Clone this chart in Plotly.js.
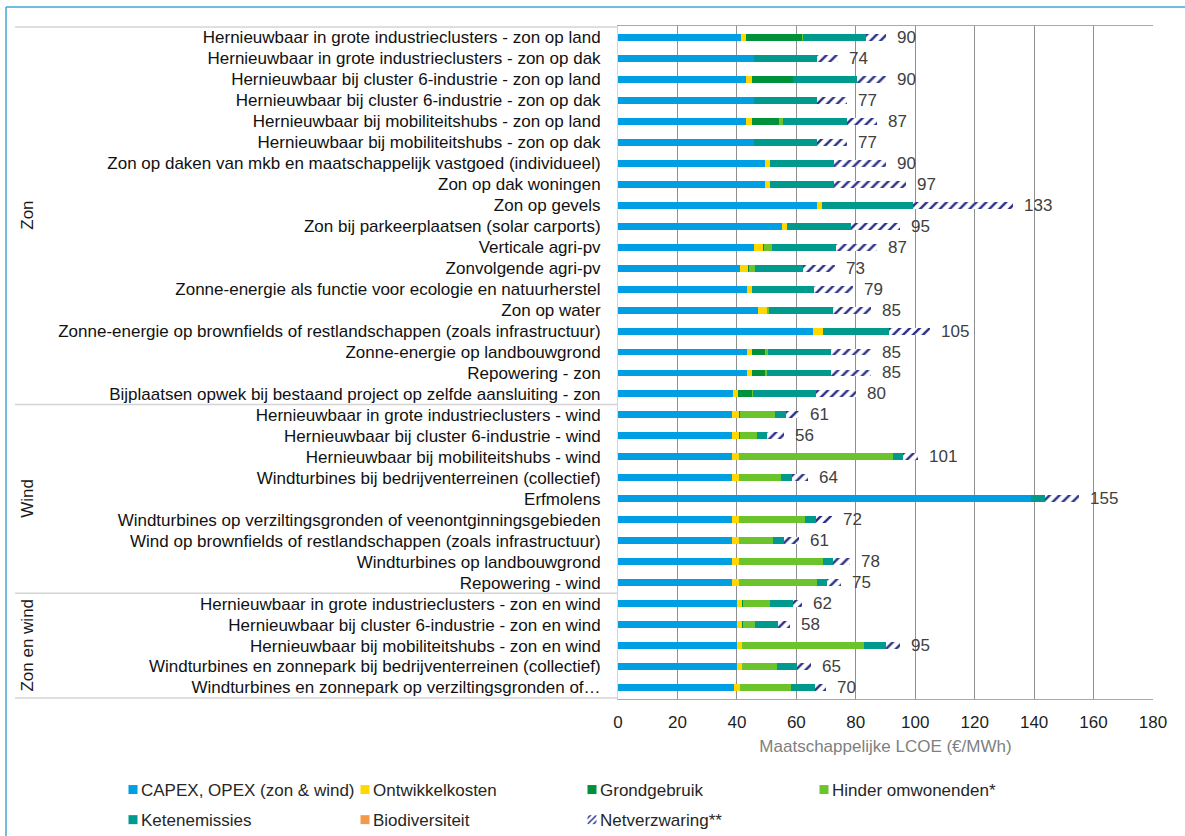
<!DOCTYPE html>
<html>
<head>
<meta charset="utf-8">
<script src="https://cdn.plot.ly/plotly-3.0.1.min.js"></script>
<style>html,body{margin:0;padding:0;background:#fff;}#chart{width:1185px;height:836px;}</style>
</head>
<body>
<div id="chart"></div>
<script>
const categories = [
  "Hernieuwbaar in grote industrieclusters - zon op land",
  "Hernieuwbaar in grote industrieclusters - zon op dak",
  "Hernieuwbaar bij cluster 6-industrie - zon op land",
  "Hernieuwbaar bij cluster 6-industrie - zon op dak",
  "Hernieuwbaar bij mobiliteitshubs - zon op land",
  "Hernieuwbaar bij mobiliteitshubs - zon op dak",
  "Zon op daken van mkb en maatschappelijk vastgoed (individueel)",
  "Zon op dak woningen",
  "Zon op gevels",
  "Zon bij parkeerplaatsen (solar carports)",
  "Verticale agri-pv",
  "Zonvolgende agri-pv",
  "Zonne-energie als functie voor ecologie en natuurherstel",
  "Zon op water",
  "Zonne-energie op brownfields of restlandschappen (zoals infrastructuur)",
  "Zonne-energie op landbouwgrond",
  "Repowering - zon",
  "Bijplaatsen opwek bij bestaand project op zelfde aansluiting - zon",
  "Hernieuwbaar in grote industrieclusters - wind",
  "Hernieuwbaar bij cluster 6-industrie - wind",
  "Hernieuwbaar bij mobiliteitshubs - wind",
  "Windturbines bij bedrijventerreinen (collectief)",
  "Erfmolens",
  "Windturbines op verziltingsgronden of veenontginningsgebieden",
  "Wind op brownfields of restlandschappen (zoals infrastructuur)",
  "Windturbines op landbouwgrond",
  "Repowering - wind",
  "Hernieuwbaar in grote industrieclusters - zon en wind",
  "Hernieuwbaar bij cluster 6-industrie - zon en wind",
  "Hernieuwbaar bij mobiliteitshubs - zon en wind",
  "Windturbines en zonnepark bij bedrijventerreinen (collectief)",
  "Windturbines en zonnepark op verziltingsgronden of…"
];

const groups = ["Zon", "Wind", "Zon en wind"];
const groupSizes = [18, 9, 5];

const seriesNames = ["CAPEX, OPEX (zon & wind)", "Ontwikkelkosten", "Grondgebruik",
  "Hinder omwonenden*", "Ketenemissies", "Biodiversiteit", "Netverzwaring**"];

const capexOpex = [41.3, 45.7, 43.1, 45.7, 43.1, 45.7, 49.6, 49.6, 66.9, 55.1, 45.6, 41.0, 43.3, 47.1, 65.5, 43.3, 43.3, 38.8,
  38.3, 38.3, 38.3, 38.3, 139.1, 38.3, 38.3, 38.3, 38.3,
  40.2, 40.2, 40.2, 40.2, 39.1];
const ontwikkelkosten = [1.8, 0, 2.0, 0, 2.0, 0, 1.5, 1.5, 1.9, 1.6, 3.1, 2.6, 1.8, 2.9, 3.4, 1.8, 1.8, 1.5,
  2.3, 2.3, 2.3, 2.3, 0, 2.3, 2.3, 2.3, 2.3,
  1.5, 1.5, 1.5, 1.5, 1.9];
const grondgebruik = [18.7, 0, 13.7, 0, 9.1, 0, 0, 0, 0, 0, 0.5, 0.5, 0, 0, 0, 4.5, 4.5, 4.8,
  0.4, 0.4, 0, 0, 0, 0, 0, 0, 0,
  0.5, 0.5, 0, 0, 0];
const hinder = [0.5, 0, 0.2, 0, 1.2, 0, 0, 0, 0, 0, 2.5, 1.9, 0, 0.9, 0, 0.8, 0.4, 0.4,
  11.9, 5.6, 51.9, 14.3, 0, 22.2, 11.6, 28.5, 26.3,
  8.9, 3.9, 41.2, 11.7, 17.2];
const ketenemissies = [21.1, 21.4, 21.3, 21.4, 21.6, 21.4, 21.6, 21.6, 30.4, 21.8, 21.6, 16.4, 20.9, 21.3, 22.2, 21.4, 21.6, 21.1,
  3.6, 3.4, 3.3, 3.5, 4.4, 3.7, 3.6, 3.1, 3.3,
  7.9, 7.8, 7.3, 6.7, 8.1];
const biodiversiteit = [0, 0, 0, 0, 0, 0, 0, 0, 0, 0, 0, 0, 0, 0, 0, 0, 0, 0,
  0, 0, 0, 0, 0, 0, 0, 0, 0,
  0, 0, 0, 0, 0];
const netverzwaring = [6.6, 6.9, 9.7, 9.9, 10.0, 9.9, 17.3, 24.3, 33.8, 16.5, 13.7, 10.6, 13.0, 12.8, 13.9, 13.2, 13.4, 13.4,
  4.5, 6.0, 5.2, 5.6, 11.5, 5.5, 5.2, 5.8, 4.8,
  3.0, 4.1, 4.8, 4.9, 3.7];
const totals = [90, 74, 90, 77, 87, 77, 90, 97, 133, 95, 87, 73, 79, 85, 105, 85, 85, 80,
  61, 56, 101, 64, 155, 72, 61, 78, 75,
  62, 58, 95, 65, 70];

const xTickVals = [0, 20, 40, 60, 80, 100, 120, 140, 160, 180];

const colors = ["#009fe3", "#ffd800", "#00913a", "#6cc42c", "#00998e", "#f39a4a", "#ffffff"];
const legendOf = ["legend", "legend2", "legend3", "legend4", "legend", "legend2", "legend3"];
const seriesData = [capexOpex, ontwikkelkosten, grondgebruik, hinder, ketenemissies, biodiversiteit, netverzwaring];

const FONT = "Liberation Sans, Arial, sans-serif";

const traces = seriesData.map((vals, i) => {
  const t = {
    type: "bar",
    orientation: "h",
    name: seriesNames[i],
    x: vals,
    y: categories,
    legend: legendOf[i],
    legendgroup: "g" + i,
    marker: {color: colors[i], line: {width: 0}},
    hoverinfo: "x+name"
  };
  if (i === 6) {
    t.marker.pattern = {shape: "/", fgcolor: "#2b3088", bgcolor: "#ffffff", size: 7, solidity: 0.35};
  }
  return t;
});

// plot box in pixels
const W = 1185, H = 836, L = 618, R = 32, T = 26, B = 137;
const pw = W - L - R, ph = H - T - B;
const px = v => (v - L) / pw;   // pixel x -> paper
const py = v => (H - B - v) / ph; // pixel y -> paper

const shapes = [];
// frame lines (cyan)
shapes.push({type: "line", xref: "paper", yref: "paper", x0: px(6), x1: px(1185), y0: py(7), y1: py(7), line: {color: "#3fa7d6", width: 1.5}});
shapes.push({type: "line", xref: "paper", yref: "paper", x0: px(6), x1: px(6), y0: py(7), y1: py(836), line: {color: "#3fa7d6", width: 1.5}});
// group separators in the label area
let cum = 0;
const bounds = [-0.5];
groupSizes.forEach(s => { cum += s; bounds.push(cum - 0.5); });
bounds.forEach(b => {
  shapes.push({type: "line", xref: "paper", yref: "y", x0: px(15), x1: 0, y0: b, y1: b, line: {color: "#d4d4d4", width: 1.5}});
});

const annotations = [];
// total labels
totals.forEach((t, i) => {
  annotations.push({x: t, y: categories[i], xref: "x", yref: "y", text: String(t), showarrow: false,
    xanchor: "left", xshift: 9, font: {family: FONT, size: 17, color: "#404040"}});
});
// group labels
cum = 0;
groups.forEach((g, gi) => {
  const mid = cum + (groupSizes[gi] - 1) / 2;
  cum += groupSizes[gi];
  annotations.push({x: px(28), y: mid, xref: "paper", yref: "y", text: g, textangle: -90, showarrow: false,
    xanchor: "center", yanchor: "middle",
    font: {family: FONT, size: 17, color: "#1a1a1a"}});
});

const legendBase = {
  orientation: "v", xref: "container", yref: "container", yanchor: "top", xanchor: "left",
  font: {family: FONT, size: 17, color: "#262626"}, bgcolor: "rgba(0,0,0,0)", traceorder: "grouped",
  tracegroupgap: 5, itemwidth: 30
};
const legY = 1 - 772 / H;

const layout = {
  width: W, height: H,
  paper_bgcolor: "#ffffff", plot_bgcolor: "#ffffff",
  margin: {l: L, r: R, t: T, b: B, pad: 0, autoexpand: false},
  barmode: "stack",
  bargap: 0.67,
  font: {family: FONT, size: 17, color: "#1a1a1a"},
  xaxis: {
    range: [0, 180], tickvals: xTickVals, ticktext: xTickVals.map(String),
    automargin: false,
    showgrid: true, gridcolor: "#8f8f8f", gridwidth: 1, zeroline: false,
    showline: true, linecolor: "#a8a8a8", linewidth: 1, mirror: true,
    ticks: "", ticklabelstandoff: 8,
    tickfont: {family: FONT, size: 17, color: "#1f1f1f"},
    title: {text: "Maatschappelijke LCOE (€/MWh)", font: {family: FONT, size: 17, color: "#7f7f7f"}, standoff: 8}
  },
  yaxis: {
    type: "category", autorange: "reversed", categoryorder: "array", categoryarray: categories,
    automargin: false,
    showgrid: false, zeroline: false, showline: true, linecolor: "#d4d4d4", linewidth: 1,
    ticks: "", ticklabelstandoff: 13,
    tickfont: {family: FONT, size: 17, color: "#111111"}
  },
  showlegend: true,
  legend: Object.assign({}, legendBase, {x: 101 / W, y: legY}),
  legend2: Object.assign({}, legendBase, {x: 333 / W, y: legY}),
  legend3: Object.assign({}, legendBase, {x: 560 / W, y: legY}),
  legend4: Object.assign({}, legendBase, {x: 792 / W, y: legY}),
  shapes: shapes,
  annotations: annotations
};

Plotly.newPlot("chart", traces, layout, {displayModeBar: false, staticPlot: true}).then(gd => {
  // pull the legend swatches closer to their labels, as in the original
  try {
    gd.querySelectorAll(".legendsymbols").forEach(el => {
      el.setAttribute("transform", "translate(17,0) scale(0.75)");
    });
  } catch (e) {}
});
</script>
</body>
</html>
